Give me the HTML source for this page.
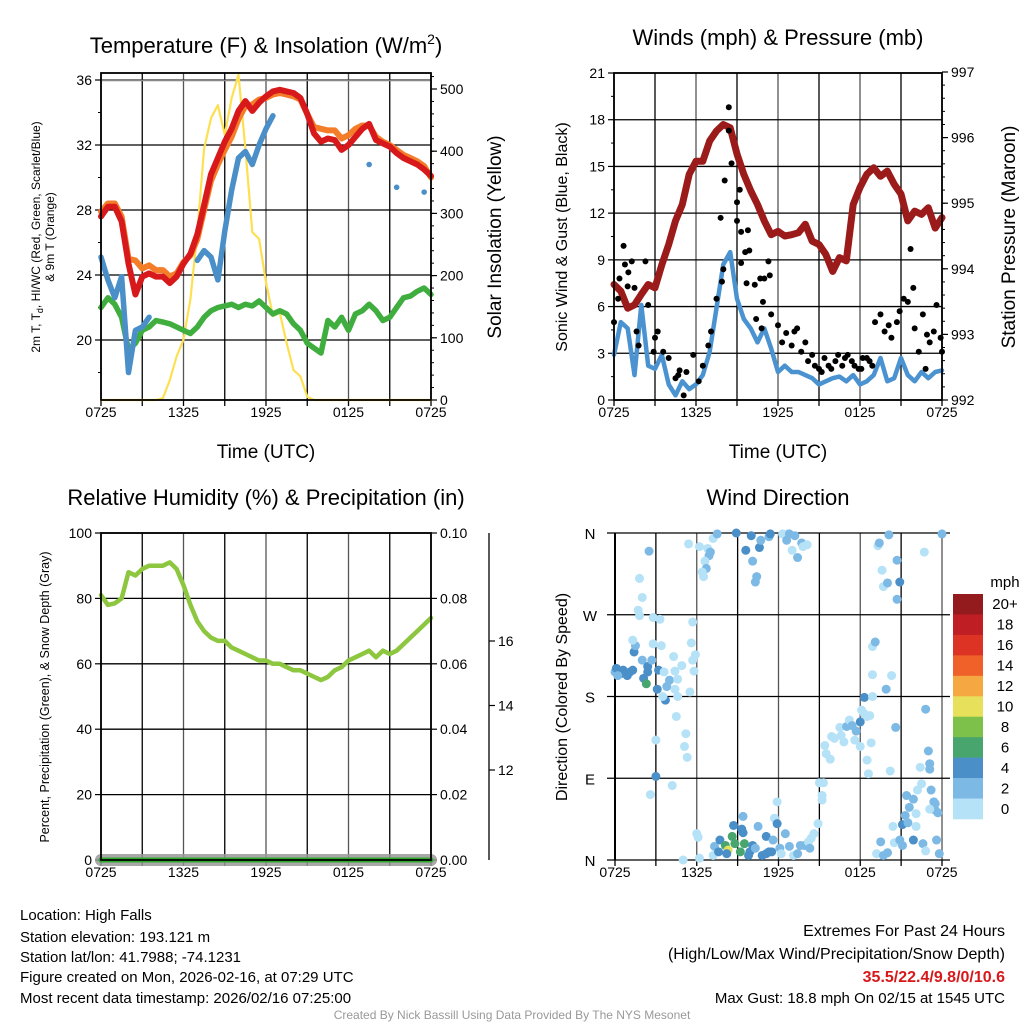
<!DOCTYPE html>
<html><head><meta charset="utf-8"><title>Mesonet Station Chart</title>
<style>
html,body{margin:0;padding:0;background:#fff;}
svg{display:block;font-family:"Liberation Sans",Arial,sans-serif;}
</style></head>
<body>
<svg id="chart" xmlns="http://www.w3.org/2000/svg" width="1024" height="1024" viewBox="0 0 1024 1024">
<rect x="0" y="0" width="1024" height="1024" fill="#fff"/>
<text x="266" y="53" font-size="22" text-anchor="middle">Temperature (F) &amp; Insolation (W/m<tspan font-size="14" dy="-9">2</tspan><tspan dy="9">)</tspan></text>
<text x="778" y="45" font-size="22" text-anchor="middle">Winds (mph) &amp; Pressure (mb)</text>
<text x="266" y="505" font-size="22" text-anchor="middle">Relative Humidity (%) &amp; Precipitation (in)</text>
<text x="778" y="505" font-size="22" text-anchor="middle">Wind Direction</text>
<text x="266" y="458" font-size="19" text-anchor="middle">Time (UTC)</text>
<text x="778" y="458" font-size="19" text-anchor="middle">Time (UTC)</text>
<text transform="translate(40,237) rotate(-90)" font-size="12" text-anchor="middle">2m T, T<tspan font-size="9" dy="3">d</tspan><tspan dy="-3">, HI/WC (Red, Green, Scarlet/Blue)</tspan></text>
<text transform="translate(54,237) rotate(-90)" font-size="12" text-anchor="middle">&amp; 9m T (Orange)</text>
<text transform="translate(501,237) rotate(-90)" font-size="19" text-anchor="middle">Solar Insolation (Yellow)</text>
<text transform="translate(567,237) rotate(-90)" font-size="16" text-anchor="middle">Sonic Wind &amp; Gust (Blue, Black)</text>
<text transform="translate(1015,237) rotate(-90)" font-size="19" text-anchor="middle">Station Pressure (Maroon)</text>
<text transform="translate(49,697) rotate(-90)" font-size="12.5" text-anchor="middle">Percent, Precipitation (Green), &amp; Snow Depth (Gray)</text>
<text transform="translate(567,697) rotate(-90)" font-size="16" text-anchor="middle">Direction (Colored By Speed)</text>
<g font-size="15">
<text x="20" y="920">Location: High Falls</text>
<text x="20" y="942">Station elevation: 193.121 m</text>
<text x="20" y="962">Station lat/lon: 41.7988; -74.1231</text>
<text x="20" y="982">Figure created on Mon, 2026-02-16, at 07:29 UTC</text>
<text x="20" y="1003">Most recent data timestamp: 2026/02/16 07:25:00</text>
</g>
<g font-size="16" text-anchor="end">
<text x="1005" y="936">Extremes For Past 24 Hours</text>
<text x="1005" y="959">(High/Low/Max Wind/Precipitation/Snow Depth)</text>
<text x="1005" y="982" fill="#d7191c" font-weight="bold">35.5/22.4/9.8/0/10.6</text>
<text x="1005" y="1003" font-size="15">Max Gust: 18.8 mph On 02/15 at 1545 UTC</text>
</g>
<text x="512" y="1019" font-size="12" fill="#999" text-anchor="middle">Created By Nick Bassill Using Data Provided By The NYS Mesonet</text>
<g id="plots"></g>
</svg>
<script>
// ---------- data ----------
const hourTicks = [0, 6, 12, 18, 24];
const hourTickLabels = ["0725", "1325", "1925", "0125", "0725"];
const sampleHours = Array.from({length: 49}, (_, i) => i * 0.5);

const temp2m = [27.6,28.2,28.2,27.3,24.7,22.8,23.9,24.1,23.9,23.9,23.5,23.9,24.7,25.3,26.5,28.3,30.2,31.2,32.2,33.0,34.1,34.7,34.1,34.6,35.0,35.3,35.4,35.3,35.2,34.9,33.9,32.7,32.2,32.4,32.3,31.7,32.0,32.5,33.0,33.3,32.3,32.1,31.9,31.5,31.2,31.0,30.8,30.5,30.1];
const temp9m = [27.9,28.4,28.4,27.6,25.0,24.9,24.4,24.6,24.3,24.3,23.9,24.1,24.8,25.2,26.2,28.0,29.8,30.8,31.7,32.5,33.6,34.4,34.5,34.8,34.9,35.1,35.2,35.1,35.0,34.8,33.9,33.1,33.0,32.9,32.9,32.4,32.6,33.0,33.2,33.2,32.5,32.2,32.0,31.7,31.4,31.2,31.0,30.7,30.0];
const heatIndex = [25.1,23.7,22.6,23.9,18.0,20.6,20.8,21.4,null,null,null,null,null,null,24.9,25.5,25.1,23.7,26.7,29.2,31.2,31.6,30.8,32.0,33.0,33.8,null,null,null,null,null,null,null,null,null,null,null,null,null,30.8,null,null,null,29.4,null,null,null,29.1,null];
const dewPoint = [22.0,22.6,22.2,21.4,19.4,19.8,20.6,20.8,21.2,21.1,21.0,20.8,20.6,20.4,20.8,21.4,21.8,22.0,22.1,22.2,22.0,22.2,22.1,22.4,22.0,21.6,21.8,21.6,21.0,20.6,19.8,19.5,19.2,21.2,20.8,21.4,20.6,21.6,21.8,22.2,21.8,21.2,21.4,22.0,22.6,22.7,23.0,23.2,22.8];
const solar = [0,0,0,0,0,0,0,0,0,3,32,70,97,162,269,404,453,474,426,485,523,404,270,259,189,135,140,92,48,38,5,0,0,0,0,0,0,0,0,0,0,0,0,0,0,0,0,0,0];
const tempTicks = [20, 24, 28, 32, 36];
const solarTicks = [0, 100, 200, 300, 400, 500];

const pressure = [993.76,993.66,993.40,993.45,993.61,993.76,993.71,994.06,994.37,994.73,994.98,995.44,995.64,995.64,995.95,996.10,996.20,996.15,995.75,995.44,995.19,994.98,994.73,994.52,994.57,994.50,994.52,994.55,994.68,994.42,994.37,994.22,993.96,994.17,994.12,994.98,995.24,995.44,995.54,995.41,995.49,995.29,995.14,994.73,994.88,994.83,994.93,994.62,994.78];
const windSpeed = [2.9,5.0,4.6,1.6,6.1,2.2,2.0,2.9,1.0,0.3,1.2,0.7,1.0,1.6,3.1,5.9,8.7,9.5,6.5,5.2,4.6,3.7,4.6,3.3,1.8,2.2,1.8,1.8,1.6,1.4,1.0,1.2,1.4,1.5,1.2,1.6,1.0,1.2,1.6,2.7,1.2,1.4,2.7,1.6,1.2,1.8,1.4,1.8,1.9];
const gustHours = [0,0.3,0.4,0.7,0.8,1.05,1.3,1.0,1.5,1.8,2.3,2.5,1.65,3.0,3.2,2.9,3.6,4.0,4.5,4.8,5.3,5.8,6.2,6.5,6.9,7.1,7.5,7.9,8.0,7.8,8.1,8.4,8.4,8.6,9.0,9.2,9.0,9.3,9.6,9.8,9.9,9.3,9.7,10.3,10.7,11.0,11.3,11.4,10.9,11.5,10.4,10.8,12.0,12.6,13.2,13.4,12.3,13.0,13.7,14.0,14.5,15.0,15.4,16.2,16.4,16.9,17.4,17.9,18.2,18.7,19.1,19.5,19.8,20.1,20.3,20.7,20.9,21.2,21.5,21.7,21.9,22.0,22.3,22.6,22.9,23.1,23.4,23.6,23.9,24.0,22.8,15.2,15.9,4.7,5.1,14.2,14.7,15.7,16.7,17.1,17.6,18.1,18.5,18.9];
const gustSpeeds = [5.0,6.5,7.8,9.9,8.7,8.2,8.9,7.3,7.2,3.5,8.9,6.1,4.4,4.0,4.4,3.1,3.1,2.7,1.4,1.9,1.8,2.9,1.2,2.2,3.5,4.4,6.5,7.6,8.4,11.7,14.1,18.8,17.3,15.2,12.7,13.5,11.5,10.8,9.5,10.9,9.6,8.8,7.5,7.4,7.8,7.8,8.9,8.0,6.3,5.5,5.2,4.6,4.8,4.3,4.4,4.6,3.7,3.5,3.1,3.7,2.9,2.0,2.7,2.5,2.9,2.7,2.5,2.0,2.7,2.5,5.0,5.5,4.4,4.8,4.0,5.0,5.7,6.5,6.3,9.7,7.2,4.6,3.1,5.5,4.2,3.7,4.4,6.1,4.0,3.1,2.0,1.8,2.0,1.6,0.3,2.5,2.2,2.2,2.2,2.9,2.2,2.0,2.7,2.2];
const windTicks = [0, 3, 6, 9, 12, 15, 18, 21];
const pressureTicks = [992, 993, 994, 995, 996, 997];

const humidity = [81,78,78.5,80,88,87,89,90,90,90,91,89,84,78,73,70,68,67,67,65,64,63,62,61,61,60,60,59,58,58,57,56,55,56,58,59,61,62,63,64,62,64,63,64,66,68,70,72,74];
const precip = [0,0,0,0,0,0,0,0,0,0,0,0,0,0,0,0,0,0,0,0,0,0,0,0,0,0,0,0,0,0,0,0,0,0,0,0,0,0,0,0,0,0,0,0,0,0,0,0,0];
const snowDepth = [9.2,9.2,9.2,9.2,9.2,9.2,9.2,9.2,9.2,9.2,9.2,9.2,9.2,9.2,9.2,9.2,9.2,9.2,9.2,9.2,9.2,9.2,9.2,9.2,9.2,9.2,9.2,9.2,9.2,9.2,9.2,9.2,9.2,9.2,9.2,9.2,9.2,9.2,9.2,9.2,9.2,9.2,9.2,9.2,9.2,9.2,9.2,9.2,9.2];
const humidityTicks = [0, 20, 40, 60, 80, 100];
const precipTicks = ["0.00", "0.02", "0.04", "0.06", "0.08", "0.10"];
const snowTicks = [12, 14, 16];

const dirHours = [0.0,0.1,0.4,0.6,0.9,1.1,1.3,0.2,1.4,1.5,2.0,2.4,2.4,2.1,2.3,1.3,1.8,2.0,1.7,1.8,2.5,2.8,3.3,2.8,3.4,2.7,3.2,3.6,4.0,3.8,3.1,3.7,3.5,4.3,4.9,4.4,4.6,4.4,4.6,5.5,5.7,5.8,5.6,5.9,5.7,4.5,5.2,5.1,5.3,3.0,3.0,2.6,4.2,
5.4,6.2,6.8,6.9,7.0,6.6,6.7,6.4,6.5,7.2,7.5,8.9,9.6,10.0,10.1,10.4,10.3,10.6,10.7,11.3,11.4,12.3,12.7,12.8,13.2,12.6,13.0,13.4,13.7,13.8,14.1,
5.0,6.2,6.0,6.1,7.2,7.3,7.7,7.6,8.1,8.3,8.2,8.6,8.8,9.2,9.5,8.7,9.3,9.4,9.4,9.8,9.9,10.1,10.3,10.5,10.8,11.1,11.3,11.1,11.5,11.6,11.7,11.9,11.9,12.1,12.2,12.5,12.8,13.1,13.4,13.6,13.9,14.2,14.3,14.4,14.6,14.9,15.0,15.3,15.2,15.2,
15.4,15.5,15.8,15.9,16.1,16.5,16.6,16.8,17.0,17.2,17.4,17.7,18.0,18.1,18.3,18.3,18.5,18.7,18.9,18.9,18.9,19.1,17.6,18.0,18.5,18.6,18.8,19.9,20.3,20.6,20.2,
19.3,19.4,19.6,19.7,20.0,20.1,20.7,20.7,20.9,22.7,24.0,
19.2,19.5,19.7,20.0,20.4,20.5,20.9,21.1,21.1,21.3,21.5,21.6,21.4,21.9,22.1,22.1,22.2,22.5,22.6,22.8,21.9,23.2,23.4,23.5,23.5,23.7,23.1,23.6,23.8,22.8,23.0,23.1,23.1,22.4];
const dirDegrees = [207,211,205,209,203,207,209,203,229,236,220,213,207,200,194,242,310,289,275,269,340,267,265,238,236,220,209,207,198,191,188,176,180,224,214,208,199,188,180,185,220,208,239,226,262,158,139,125,113,132,92,72,82,
348,345,343,335,339,329,321,317,312,354,359,360,341,357,329,312,306,344,352,356,359,359,359,359,357,352,341,333,349,345,347,
0,2,29,25,5,15,22,9,16,11,7,26,18,9,18,38,34,30,48,5,9,16,13,37,5,7,9,26,9,22,46,40,64,13,7,29,15,5,7,16,16,20,13,24,29,40,85,85,71,66,
126,117,111,136,134,146,137,130,147,154,148,142,152,165,179,161,158,159,180,204,235,240,132,125,110,95,129,188,203,146,98,
346,349,319,301,305,358,330,287,306,339,359,
7,20,5,8,37,19,22,16,39,49,41,58,71,67,51,37,77,84,18,10,22,77,64,62,55,52,56,22,7,166,120,106,100,102];
const dirSpeeds = [3,5,5,5,5,5,5,3,5,3,3,5,5,5,7,1,1,1,1,1,3,1,1,1,1,3,5,1,3,3,5,5,1,1,1,1,1,1,1,1,1,1,1,1,1,1,1,1,1,1,5,1,1,
1,1,1,3,3,1,3,1,1,1,3,5,5,5,3,3,3,5,3,3,5,1,1,3,3,3,1,3,3,1,1,
1,1,1,1,1,3,5,5,7,10,5,7,7,7,7,5,5,5,3,5,5,5,3,3,5,5,5,5,5,3,1,5,1,3,1,3,3,1,3,3,3,1,3,1,1,1,1,1,1,1,
1,1,1,1,1,1,1,1,3,1,3,3,5,1,5,1,1,1,1,1,1,3,1,1,1,1,1,3,1,3,1,
1,3,1,1,3,3,3,3,5,1,3,
1,3,3,3,1,1,3,3,5,3,3,3,3,3,1,1,1,1,3,1,5,3,3,3,3,3,1,3,3,3,3,3,3,1];
const dirTickLabels = ["N", "E", "S", "W", "N"];
const dirTicks = [0, 90, 180, 270, 360];
const speedBins = ["0", "2", "4", "6", "8", "10", "12", "14", "16", "18", "20+"];
const speedColors = ["#b5e2f7","#7db9e5","#4a8fc7","#47a56d","#7dc04a","#e6e05a","#f5a742","#ef6128","#dc3325","#bf1e24","#931a1d"];

// ---------- helpers ----------
const NS = "http://www.w3.org/2000/svg";
const root = document.getElementById("plots");
function mk(tag, attrs, parent) {
  const el = document.createElementNS(NS, tag);
  for (const k in attrs) el.setAttribute(k, attrs[k]);
  (parent || root).appendChild(el);
  return el;
}
function scale(d0, d1, r0, r1) { return v => r0 + (v - d0) / (d1 - d0) * (r1 - r0); }
function pathFrom(xs, ys, sx, sy, clampLo, clampHi) {
  let d = "", pen = false;
  for (let i = 0; i < xs.length; i++) {
    if (ys[i] === null || ys[i] === undefined) { pen = false; continue; }
    let py = sy(ys[i]);
    if (clampLo !== undefined) py = Math.max(clampLo, Math.min(clampHi, py));
    const px = sx(xs[i]);
    d += (pen ? "L" : "M") + px.toFixed(1) + " " + py.toFixed(1) + " ";
    if (!pen && (i + 1 >= xs.length || ys[i + 1] === null)) d += "l0.1 0 ";
    pen = true;
  }
  return d;
}
function line(x1, y1, x2, y2, stroke, w, name, g) {
  const el = mk("line", {x1: x1, y1: y1, x2: x2, y2: y2, stroke: stroke, "stroke-width": w}, g);
  
  
  return el;
}
function label(x, y, txt, anchor, size, name, g) {
  const el = mk("text", {x: x, y: y, "text-anchor": anchor, "font-size": size}, g);
  el.textContent = txt;
  
  
  return el;
}
function series(d, color, w, name, g, extra) {
  const el = mk("path", Object.assign({d: d, fill: "none", stroke: color, "stroke-width": w, "stroke-linejoin": "round", "stroke-linecap": "round"}, extra || {}), g);
  
  
  return el;
}
function timeAxis(g, sx, yb, ytop) {
  for (let h = 0; h <= 24; h += 3) {
    line(sx(h), ytop, sx(h), yb, h % 6 === 0 ? "#555" : "#000", 1.3, "x-gridline", g);
    line(sx(h), yb, sx(h), yb + 6, "#000", 1.3, "x-tick", g);
  }
  hourTicks.forEach((h, i) => label(sx(h), yb + 17, hourTickLabels[i], "middle", 14, "x-tick-label", g));
}

// ---------- panel 1: temperature ----------
(function () {
  const g = mk("g", {});
  
  
  const X0 = 101, X1 = 431, Y0 = 73, Y1 = 400;
  const sx = scale(0, 24, X0, X1);
  const sy = scale(20, 36, 340, 80);
  const ss = scale(0, 500, 400, 89);
  timeAxis(g, sx, Y1, Y0);
  tempTicks.forEach(v => {
    line(X0, sy(v), X1, sy(v), "#000", 1.3, "temp-gridline", g);
    line(X0 - 6, sy(v), X0, sy(v), "#000", 1.2, "temp-tick", g);
    label(X0 - 9, sy(v) + 5, String(v), "end", 14, "temp-tick-label", g);
  });
  line(X0, sy(36) + 0.5, X1, sy(36) + 0.5, "#888", 1.5, "temp-gridline-top", g);
  for (let v = 18; v <= 36; v += 2) line(X0 - 3, sy(v), X0, sy(v), "#000", 1, "temp-minor-tick", g);
  solarTicks.forEach(v => {
    line(X1, ss(v), X1 + 6, ss(v), "#000", 1.2, "solar-tick", g);
    label(X1 + 9, ss(v) + 5, String(v), "start", 14, "solar-tick-label", g);
  });
  for (let v = 0; v <= 520; v += 20) line(X1, ss(v), X1 + 3, ss(v), "#000", 1, "solar-minor-tick", g);
  series(pathFrom(sampleHours, solar, sx, ss), "#fde052", 2.2, "solar-line", g);
  series(pathFrom(sampleHours, dewPoint, sx, sy), "#3fae3f", 5.5, "dewpoint-line", g);
  series(pathFrom(sampleHours, heatIndex, sx, sy), "#4a8fc8", 5.5, "heat-index-line", g);
  series(pathFrom(sampleHours, temp9m, sx, sy), "#f47d2a", 6, "temp-9m-line", g);
  series(pathFrom(sampleHours, temp2m, sx, sy), "#d7191c", 6, "temp-2m-line", g);
  const fr = mk("rect", {x: X0, y: Y0, width: X1 - X0, height: Y1 - Y0, fill: "none", stroke: "#000", "stroke-width": 1.8}, g);
  
  
})();

// ---------- panel 2: winds ----------
(function () {
  const g = mk("g", {});
  
  
  const X0 = 614, X1 = 942, Y0 = 73, Y1 = 400;
  const sx = scale(0, 24, X0, X1);
  const sy = scale(0, 21, Y1, Y0);
  const sp = scale(992, 997, 400, 72);
  timeAxis(g, sx, Y1, Y0);
  windTicks.forEach(v => {
    line(X0, sy(v), X1, sy(v), "#000", 1.3, "wind-gridline", g);
    line(X0 - 6, sy(v), X0, sy(v), "#000", 1.2, "wind-tick", g);
    label(X0 - 9, sy(v) + 5, String(v), "end", 14, "wind-tick-label", g);
  });
  for (let v = 1.5; v <= 21; v += 3) line(X0 - 3, sy(v), X0, sy(v), "#000", 1, "wind-minor-tick", g);
  pressureTicks.forEach(v => {
    line(X1, sp(v), X1 + 6, sp(v), "#000", 1.2, "pressure-tick", g);
    label(X1 + 9, sp(v) + 5, String(v), "start", 14, "pressure-tick-label", g);
  });
  for (let v = 992; v <= 997.01; v += 0.2) line(X1, sp(v), X1 + 3, sp(v), "#000", 1, "pressure-minor-tick", g);
  series(pathFrom(sampleHours, windSpeed, sx, sy), "#4a93d0", 4.5, "sonic-wind-line", g);
  series(pathFrom(sampleHours, pressure, sx, sp), "#9b1a1a", 7, "pressure-line", g);
  gustHours.forEach((h, i) => {
    const c = mk("circle", {cx: sx(h), cy: sy(gustSpeeds[i]), r: 3, fill: "#000"}, g);
    
    
  });
  const fr = mk("rect", {x: X0, y: Y0, width: X1 - X0, height: Y1 - Y0, fill: "none", stroke: "#000", "stroke-width": 1.8}, g);
  
  
})();

// ---------- panel 3: humidity ----------
(function () {
  const g = mk("g", {});
  
  
  const X0 = 101, X1 = 431, Y0 = 533, Y1 = 860;
  const sx = scale(0, 24, X0, X1);
  const sy = scale(0, 100, Y1, Y0);
  const sq = scale(0, 0.1, Y1, Y0);
  const sn = scale(12, 16, 770, 641);
  timeAxis(g, sx, Y1, Y0);
  humidityTicks.forEach((v, i) => {
    line(X0, sy(v), X1, sy(v), "#000", 1.3, "humidity-gridline", g);
    line(X0 - 6, sy(v), X0, sy(v), "#000", 1.2, "humidity-tick", g);
    label(X0 - 9, sy(v) + 5, String(v), "end", 14, "humidity-tick-label", g);
    line(X1, sq(i * 0.02), X1 + 6, sq(i * 0.02), "#000", 1.2, "precip-tick", g);
    label(X1 + 9, sq(i * 0.02) + 5, precipTicks[i], "start", 14, "precip-tick-label", g);
  });
  line(489, Y0, 489, Y1, "#000", 1.3, "snow-axis-line", g);
  snowTicks.forEach(v => {
    line(489, sn(v), 495, sn(v), "#000", 1.2, "snow-tick", g);
    label(498, sn(v) + 5, String(v), "start", 14, "snow-tick-label", g);
  });
  series(pathFrom(sampleHours, snowDepth, sx, sn, Y0, Y1), "#999", 12, "snow-depth-line", g, {opacity: 0.85});
  series(pathFrom(sampleHours, precip, sx, sq), "#2fa82f", 5, "precip-line", g);
  series(pathFrom(sampleHours, humidity, sx, sy), "#8dc63f", 4.5, "humidity-line", g);
  const fr = mk("rect", {x: X0, y: Y0, width: X1 - X0, height: Y1 - Y0, fill: "none", stroke: "#000", "stroke-width": 1.8}, g);
  
  
})();

// ---------- panel 4: wind direction ----------
(function () {
  const g = mk("g", {});
  
  
  const X0 = 615, X1 = 942, Y0 = 533, Y1 = 860;
  const sx = scale(0, 24, X0, X1);
  const sy = scale(0, 360, Y1, Y0);
  timeAxis(g, sx, Y1, Y0);
  dirTicks.forEach((v, i) => {
    line(X0 - 8, sy(v), X1 + 8, sy(v), "#000", 1.3, "direction-gridline", g);
    label(590, sy(v) + 6, dirTickLabels[i], "middle", 15, "direction-tick-label", g);
  });
  line(X0, Y0, X0, Y1, "#000", 2, "direction-left-axis", g);
  function colorFor(s) { return speedColors[Math.min(10, Math.floor(s / 2))]; }
  dirHours.forEach((h, i) => {
    const c = mk("circle", {cx: sx(h), cy: sy(dirDegrees[i]), r: 4.5, fill: colorFor(dirSpeeds[i])}, g);
    
    
  });
  label(1005, 587, "mph", "middle", 15, "colorbar-title", g);
  const bh = 225 / speedBins.length;
  speedBins.forEach((b, i) => {
    const k = speedBins.length - 1 - i;
    const r = mk("rect", {x: 953, y: 594 + i * bh, width: 30, height: bh + 0.3, fill: speedColors[k]}, g);
    
    
    label(1005, 594 + i * bh + bh / 2 + 5, speedBins[k], "middle", 15, "colorbar-label", g);
  });
})();
</script>
</body></html>
